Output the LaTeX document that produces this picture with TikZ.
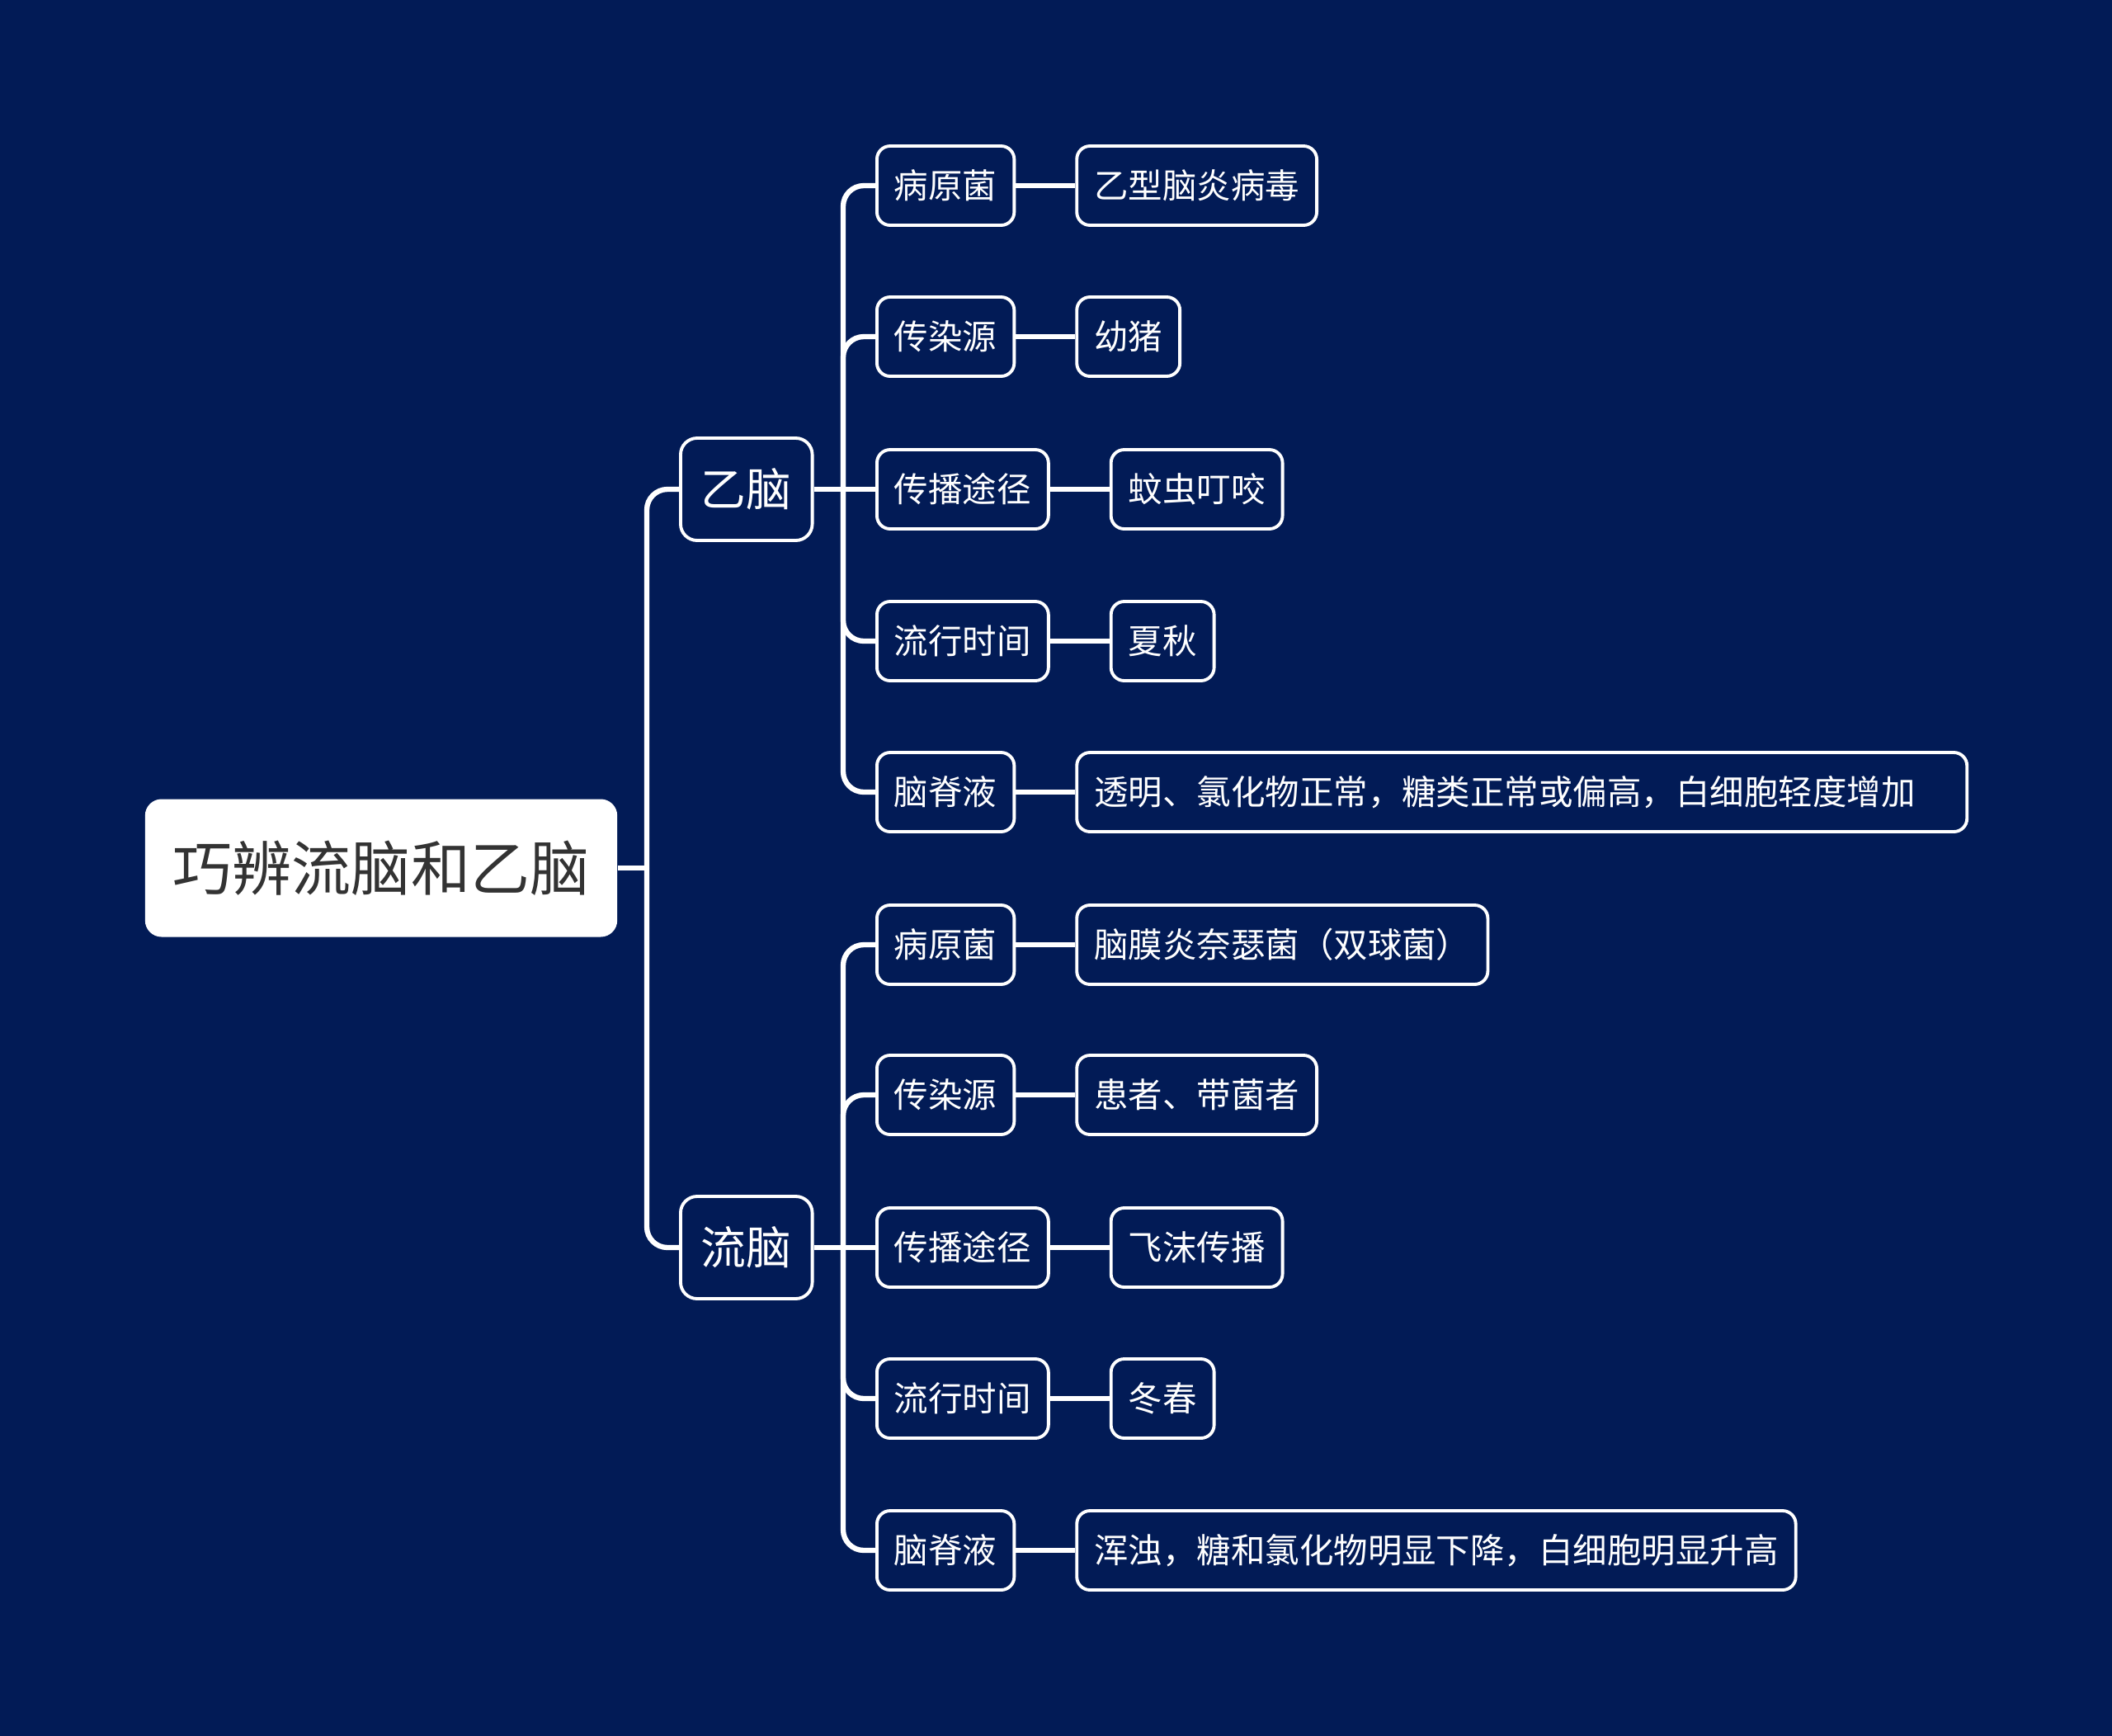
\documentclass[tikz,border=0pt]{standalone}
\usepackage{fontspec}
\setmainfont{Noto Sans CJK SC}
\usetikzlibrary{positioning}
\definecolor{bgnavy}{HTML}{021B56}
\definecolor{roottext}{HTML}{333333}

\begin{document}
\begin{tikzpicture}[
  rootbox/.style={rectangle,rounded corners=0.2cm,fill=white,text=roottext,font=\fontsize{20.5}{24}\selectfont,minimum height=1.67cm,inner xsep=0.34cm},
  topicbox/.style={rectangle,rounded corners=0.2cm,draw=white,line width=1.1pt,fill=bgnavy,text=white,font=\fontsize{15.6}{19}\selectfont,minimum height=1.24cm,inner xsep=0.25cm},
  itembox/.style={rectangle,rounded corners=0.16cm,draw=white,line width=1.1pt,fill=bgnavy,text=white,font=\fontsize{11.8}{14}\selectfont,minimum height=0.96cm,inner xsep=0.21cm},
  link/.style={white,line width=1.8pt,rounded corners=0.25cm}
]
\fill[bgnavy] (0,0) rectangle (25.6,-21.04);

\node[rootbox] (root) at (4.62,-10.52) {巧辨流脑和乙脑};
\node[topicbox,anchor=west] (yinao) at (8.23,-5.93) {乙脑};
\node[topicbox,anchor=west] (liunao) at (8.23,-15.12) {流脑};

% 乙脑
\node[itembox,anchor=west] (y1) at (10.61,-2.25) {病原菌};
\node[itembox,anchor=west] (y2) at (10.61,-4.08) {传染源};
\node[itembox,anchor=west] (y3) at (10.61,-5.93) {传播途径};
\node[itembox,anchor=west] (y4) at (10.61,-7.77) {流行时间};
\node[itembox,anchor=west] (y5) at (10.61,-9.60) {脑脊液};
\node[itembox,right=0.72cm of y1] (y1v) {乙型脑炎病毒};
\node[itembox,right=0.72cm of y2] (y2v) {幼猪};
\node[itembox,right=0.72cm of y3] (y3v) {蚊虫叮咬};
\node[itembox,right=0.72cm of y4] (y4v) {夏秋};
\node[itembox,right=0.72cm of y5,align=left,text width=10.37cm] (y5v) {透明、氯化物正常，糖类正常或偏高，白细胞轻度增加};

% 流脑
\node[itembox,anchor=west] (l1) at (10.61,-11.45) {病原菌};
\node[itembox,anchor=west] (l2) at (10.61,-13.27) {传染源};
\node[itembox,anchor=west] (l3) at (10.61,-15.12) {传播途径};
\node[itembox,anchor=west] (l4) at (10.61,-16.95) {流行时间};
\node[itembox,anchor=west] (l5) at (10.61,-18.79) {脑脊液};
\node[itembox,right=0.72cm of l1] (l1v) {脑膜炎奈瑟菌（双球菌）};
\node[itembox,right=0.72cm of l2] (l2v) {患者、带菌者};
\node[itembox,right=0.72cm of l3] (l3v) {飞沫传播};
\node[itembox,right=0.72cm of l4] (l4v) {冬春};
\node[itembox,right=0.72cm of l5] (l5v) {浑浊，糖和氯化物明显下降，白细胞明显升高};

\coordinate (rbus) at (7.84,-10.52);
\coordinate (ybus) at (10.22,-5.93);
\coordinate (lbus) at (10.22,-15.12);

\draw[link] (root.east) -- (rbus);
\draw[link] (yinao.west) -| (rbus);
\draw[link] (liunao.west) -| (rbus);

\draw[link] (yinao.east) -- (y3.west);
\draw[link] (liunao.east) -- (l3.west);
\foreach \c in {y1,y2,y4,y5}
  \draw[link] (\c.west) -| (ybus);
\foreach \c in {l1,l2,l4,l5}
  \draw[link] (\c.west) -| (lbus);

\foreach \c in {y1,y2,y3,y4,y5,l1,l2,l3,l4,l5}
  \draw[link] (\c.east) -- (\c v.west);

\end{tikzpicture}
\end{document}
